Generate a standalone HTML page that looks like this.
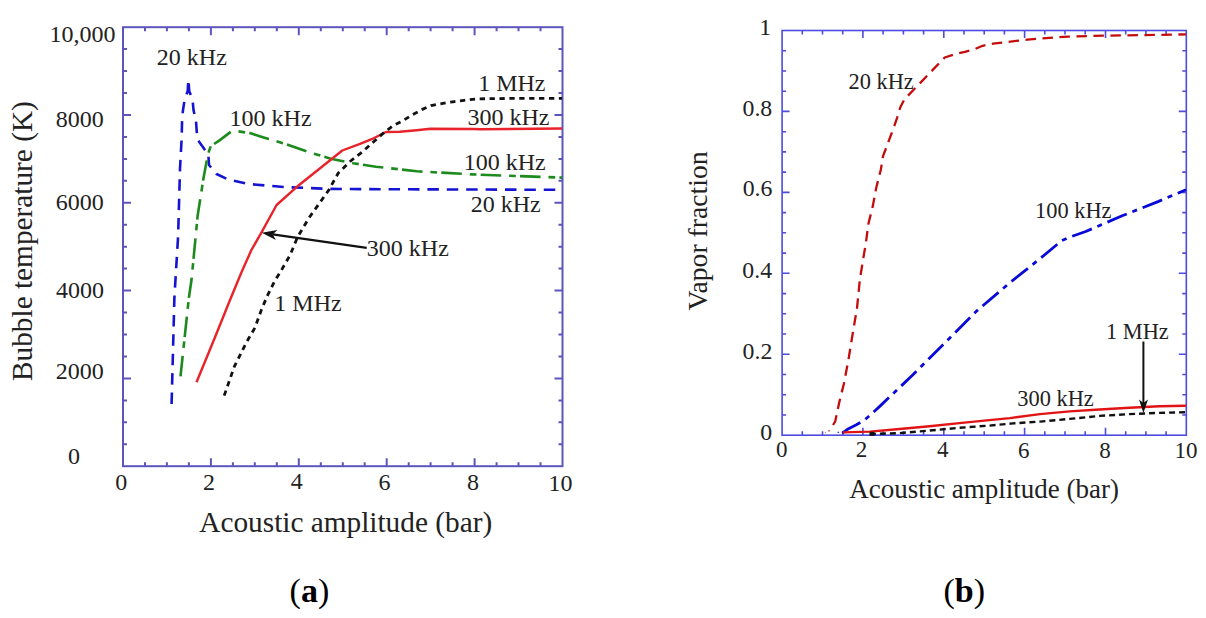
<!DOCTYPE html>
<html><head><meta charset="utf-8"><style>
html,body{margin:0;padding:0;background:#fff;}
svg{display:block;}
</style></head><body>
<svg width="1206" height="618" viewBox="0 0 1206 618">
<rect width="1206" height="618" fill="#fff"/>
<path d="M145,466.2v-4M145,27.2v4M166.9,466.2v-4M166.9,27.2v4M188.9,466.2v-4M188.9,27.2v4M210.9,466.2v-8M210.9,27.2v8M232.9,466.2v-4M232.9,27.2v4M254.8,466.2v-4M254.8,27.2v4M276.8,466.2v-4M276.8,27.2v4M298.8,466.2v-8M298.8,27.2v8M320.8,466.2v-4M320.8,27.2v4M342.8,466.2v-4M342.8,27.2v4M364.7,466.2v-4M364.7,27.2v4M386.7,466.2v-8M386.7,27.2v8M408.7,466.2v-4M408.7,27.2v4M430.6,466.2v-4M430.6,27.2v4M452.6,466.2v-4M452.6,27.2v4M474.6,466.2v-8M474.6,27.2v8M496.6,466.2v-4M496.6,27.2v4M518.5,466.2v-4M518.5,27.2v4M540.5,466.2v-4M540.5,27.2v4M123,444.2h4M562.5,444.2h-4M123,422.3h4M562.5,422.3h-4M123,400.4h4M562.5,400.4h-4M123,378.4h8M562.5,378.4h-8M123,356.4h4M562.5,356.4h-4M123,334.5h4M562.5,334.5h-4M123,312.5h4M562.5,312.5h-4M123,290.6h8M562.5,290.6h-8M123,268.6h4M562.5,268.6h-4M123,246.7h4M562.5,246.7h-4M123,224.8h4M562.5,224.8h-4M123,202.8h8M562.5,202.8h-8M123,180.8h4M562.5,180.8h-4M123,158.9h4M562.5,158.9h-4M123,136.9h4M562.5,136.9h-4M123,115h8M562.5,115h-8M123,93.1h4M562.5,93.1h-4M123,71.1h4M562.5,71.1h-4M123,49.1h4M562.5,49.1h-4" stroke="#5c56bc" stroke-width="2" fill="none"/>
<rect x="123" y="27.2" width="439.5" height="439" fill="none" stroke="#5c56bc" stroke-width="2"/>
<polyline points="171.6,404 174.4,297.5 178.1,236.4 180,168.7 181.6,139.5 182.1,120.1 183,110 184.6,100 187.7,91 188.4,79.5 189.2,91 192.6,100 193.5,110 196,121 196.7,131 197.5,139.5 205,150 208.3,153.5 209,165 216.5,174 228.2,179.6 248.5,184 285,187.1 330,188.9 400,189.3 562,189.8" fill="none" stroke="#1414d2" stroke-width="2.6" stroke-dasharray="11.5 7.9" stroke-linejoin="round" />
<polyline points="180.5,376.3 188.9,297.5 191.5,280 197.6,216 203.5,178.2 207.8,154.9 210.7,146.2 219.5,140.4 231.1,131.6 236.9,131.1 250,133.1 262.7,137.2 285.3,144 308,151.9 330.7,158.7 353.3,163.3 376,166.7 400,169.4 416.9,171.3 472.2,174.4 562,177.6" fill="none" stroke="#1c8a1c" stroke-width="2.6" stroke-dasharray="20.6 7.9 6.7 4.2" stroke-linejoin="round" />
<polyline points="196.5,382.2 215,337.3 229.6,301 241.7,271.8 251.4,250 261.5,232.4 276.6,205 298.8,185.2 342.3,150.5 360,143.9 373.6,138.3 386.1,132 399.7,131.8 416.7,130.3 430.3,128.8 473.3,129 480,129.2 562,128.5" fill="none" stroke="#e8232a" stroke-width="2.4" stroke-linejoin="round" />
<polyline points="224.2,395.6 234.4,366.4 246.5,342.2 255,327.6 261.1,310.6 267.2,296.1 274.4,281.5 280.5,271.8 290.2,254.9 297.5,237.1 309.1,217.7 318.8,204.1 328.5,190.5 338.3,173 350,161.5 362.3,151.9 372.5,142.8 382.7,133.7 392.9,125.8 401.9,121.3 412.1,115 422.3,109.4 431,105.6 441.6,103.6 452.9,101.8 464.2,100.3 479,98.8 520,98.3 562,98.3" fill="none" stroke="#111" stroke-width="2.8" stroke-dasharray="5.3 4.6" stroke-linejoin="round" />
<line x1="366.7" y1="247.9" x2="272.7" y2="234.4" stroke="#111" stroke-width="2.2"/>
<polygon points="261.8,232.8 277.4,230 272.7,234.4 275.9,239.9" fill="#111"/>
<g style="font-family:'Liberation Serif',serif" fill="#222">
<text x="49.4" y="41.9" font-size="24" text-anchor="start" >10,000</text>
<text x="55.8" y="127.3" font-size="24" text-anchor="start" >8000</text>
<text x="55.7" y="210.4" font-size="24" text-anchor="start" >6000</text>
<text x="56.1" y="297.9" font-size="24" text-anchor="start" >4000</text>
<text x="55.7" y="379.4" font-size="24" text-anchor="start" >2000</text>
<text x="68.1" y="464.4" font-size="24" text-anchor="start" >0</text>
<text x="115.2" y="490.1" font-size="24" text-anchor="start" >0</text>
<text x="202.9" y="490.1" font-size="24" text-anchor="start" >2</text>
<text x="290.7" y="489.3" font-size="24" text-anchor="start" >4</text>
<text x="378.6" y="490.1" font-size="24" text-anchor="start" >6</text>
<text x="466.9" y="490.1" font-size="24" text-anchor="start" >8</text>
<text x="548.5" y="490.5" font-size="24" text-anchor="start" >10</text>
<text x="156.8" y="64.9" font-size="24" text-anchor="start" >20 kHz</text>
<text x="229.6" y="125.5" font-size="24" text-anchor="start" >100 kHz</text>
<text x="478.2" y="91.1" font-size="24" text-anchor="start" >1 MHz</text>
<text x="467.4" y="125" font-size="24" text-anchor="start" >300 kHz</text>
<text x="463.7" y="169.5" font-size="24" text-anchor="start" >100 kHz</text>
<text x="470.7" y="212" font-size="24" text-anchor="start" >20 kHz</text>
<text x="366.8" y="255.6" font-size="24" text-anchor="start" >300 kHz</text>
<text x="274.3" y="311.1" font-size="24" text-anchor="start" >1 MHz</text>
<text x="759.2" y="34.9" font-size="23.8" text-anchor="start" >1</text>
<text x="742.5" y="115.7" font-size="23.8" text-anchor="start" >0.8</text>
<text x="742.7" y="196.4" font-size="23.8" text-anchor="start" >0.6</text>
<text x="742.3" y="277.8" font-size="23.8" text-anchor="start" >0.4</text>
<text x="742.6" y="358.9" font-size="23.8" text-anchor="start" >0.2</text>
<text x="760.3" y="439.5" font-size="23.8" text-anchor="start" >0</text>
<text x="775.9" y="457.3" font-size="23" text-anchor="start" >0</text>
<text x="855.8" y="457.3" font-size="23" text-anchor="start" >2</text>
<text x="937.1" y="457.3" font-size="23" text-anchor="start" >4</text>
<text x="1017.9" y="457.6" font-size="23" text-anchor="start" >6</text>
<text x="1099.3" y="457.6" font-size="23" text-anchor="start" >8</text>
<text x="1174.5" y="457.6" font-size="23" text-anchor="start" >10</text>
<text x="848.5" y="88.7" font-size="22.4" text-anchor="start" >20 kHz</text>
<text x="1035" y="218.1" font-size="22.4" text-anchor="start" >100 kHz</text>
<text x="1106" y="338.9" font-size="22.4" text-anchor="start" >1 MHz</text>
<text x="1017.3" y="406.3" font-size="22.4" text-anchor="start" >300 kHz</text>
<text x="199.3" y="531.6" font-size="29.31" text-anchor="start" >Acoustic amplitude (bar)</text>
<text x="849.2" y="498.4" font-size="26.99" text-anchor="start" >Acoustic amplitude (bar)</text>
<text transform="translate(32.4,381) rotate(-90)" font-size="29.3">Bubble temperature (K)</text>
</g>
<path d="M802.3,435.2v-4M802.3,30.5v4M822.5,435.2v-4M822.5,30.5v4M842.7,435.2v-4M842.7,30.5v4M862.9,435.2v-7.5M862.9,30.5v7.5M883.1,435.2v-4M883.1,30.5v4M903.4,435.2v-4M903.4,30.5v4M923.6,435.2v-4M923.6,30.5v4M943.8,435.2v-7.5M943.8,30.5v7.5M964,435.2v-4M964,30.5v4M984.2,435.2v-4M984.2,30.5v4M1004.4,435.2v-4M1004.4,30.5v4M1024.6,435.2v-7.5M1024.6,30.5v7.5M1044.8,435.2v-4M1044.8,30.5v4M1065,435.2v-4M1065,30.5v4M1085.2,435.2v-4M1085.2,30.5v4M1105.5,435.2v-7.5M1105.5,30.5v7.5M1125.7,435.2v-4M1125.7,30.5v4M1145.9,435.2v-4M1145.9,30.5v4M1166.1,435.2v-4M1166.1,30.5v4M782.1,415h4M1186.3,415h-4M782.1,394.7h4M1186.3,394.7h-4M782.1,374.5h4M1186.3,374.5h-4M782.1,354.3h7.5M1186.3,354.3h-7.5M782.1,334h4M1186.3,334h-4M782.1,313.8h4M1186.3,313.8h-4M782.1,293.6h4M1186.3,293.6h-4M782.1,273.3h7.5M1186.3,273.3h-7.5M782.1,253.1h4M1186.3,253.1h-4M782.1,232.8h4M1186.3,232.8h-4M782.1,212.6h4M1186.3,212.6h-4M782.1,192.4h7.5M1186.3,192.4h-7.5M782.1,172.1h4M1186.3,172.1h-4M782.1,151.9h4M1186.3,151.9h-4M782.1,131.7h4M1186.3,131.7h-4M782.1,111.4h7.5M1186.3,111.4h-7.5M782.1,91.2h4M1186.3,91.2h-4M782.1,71h4M1186.3,71h-4M782.1,50.7h4M1186.3,50.7h-4" stroke="#4c4ce0" stroke-width="1.6" fill="none"/>
<rect x="782.1" y="30.5" width="404.2" height="404.7" fill="none" stroke="#4c4ce0" stroke-width="1.6"/>
<polyline points="833,425 835.2,421.5 839.5,401.2 843.9,383.7 848.3,360.5 852.6,334.3 857,308.1 859.9,279.1 864.2,252.9 866,242.3 868.3,224.2 872.8,206.1 876.2,188 880.8,169.8 883,156.2 886.4,147.2 894.4,125.7 897,118.1 900.2,107.6 904.3,99.5 944.7,57.5 956,53.9 964.9,51.8 973.8,49.4 982.7,45.8 993,43.7 1027.3,39.6 1067.7,36.6 1108.2,35.6 1186,34.4" fill="none" stroke="#c40c0c" stroke-width="2.3" stroke-dasharray="10.5 6.5" stroke-linejoin="round" />
<polyline points="842.3,433.1 848.1,428.9 856.4,424.8 864.7,419.8 870.5,414.8 880,406.1 912.4,375.3 944.7,343 977.1,310.6 1009.4,283.1 1041.8,257.2 1061.2,241 1068,237.8 1085.7,231.5 1122.2,215.8 1158,201.6 1186,189.7" fill="none" stroke="#0a0ad8" stroke-width="2.8" stroke-dasharray="21 6 5 6" stroke-linejoin="round" />
<polyline points="843,432.4 869.9,431.6 899.7,429 929.6,426.3 959.4,423.1 989.3,420.1 1010,418.1 1039.9,414.1 1069.7,411.4 1099.6,409.5 1129.4,407.7 1159.3,406.2 1186,405.7" fill="none" stroke="#e01414" stroke-width="2.4" stroke-linejoin="round" />
<polyline points="869.9,434.1 899.7,433.1 929.6,430.5 959.4,427.8 989.3,425.6 1013,423.4 1039.9,421.6 1069.7,418.9 1099.6,415.9 1129.4,414.1 1159.3,412.9 1186,412.2" fill="none" stroke="#111" stroke-width="2.4" stroke-dasharray="6 4" stroke-linejoin="round" />
<rect x="869.5" y="431.8" width="5" height="4" fill="#111"/>
<circle cx="829" cy="430.8" r="0.9" fill="#d04040"/><circle cx="825.5" cy="432.5" r="0.7" fill="#e08080"/><circle cx="838.3" cy="432.3" r="0.9" fill="#4040d0"/>
<line x1="1143.4" y1="341.5" x2="1143.4" y2="406" stroke="#111" stroke-width="2"/>
<polygon points="1143.4,413 1139,399.5 1143.4,403 1148,399.5" fill="#111"/>
<g style="font-family:'Liberation Serif',serif" fill="#222">
<text transform="translate(707.3,310.5) rotate(-90)" font-size="27.7">Vapor fraction</text>
</g>
<g style="font-family:'Liberation Serif',serif" fill="#000" font-size="34">
<text x="309.4" y="601.5" text-anchor="middle">(<tspan font-weight="bold">a</tspan>)</text>
<text x="964.2" y="601.5" text-anchor="middle">(<tspan font-weight="bold">b</tspan>)</text>
</g>
</svg>
</body></html>
